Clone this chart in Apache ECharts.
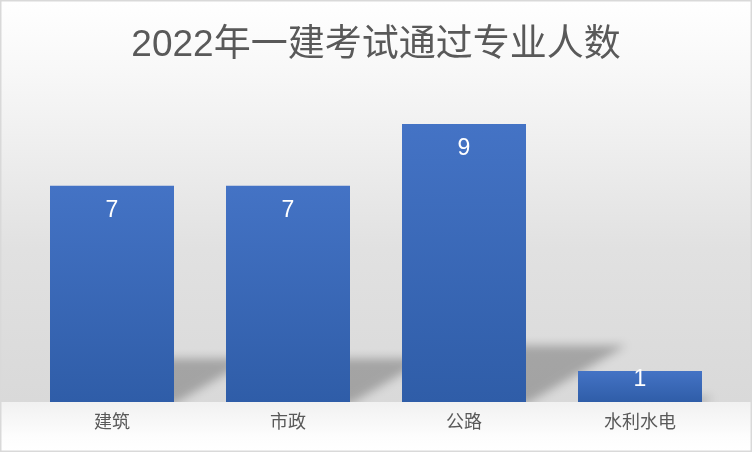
<!DOCTYPE html>
<html><head><meta charset="utf-8">
<script src="https://cdn.jsdelivr.net/npm/echarts@6/dist/echarts.min.js"></script>
<style>html,body{margin:0;padding:0;background:#fff}#c{width:752px;height:452px}</style>
</head><body><div id="c"></div>
<script>
const titleText = '2022年一建考试通过专业人数';
const categories = ['建筑', '市政', '公路', '水利水电'];
const values = [7, 7, 9, 1];

const chart = echarts.init(document.getElementById('c'));
const FONT = "'Liberation Sans', 'Noto Sans CJK SC', sans-serif";
const BAR_W = 124;
const GRID_BOTTOM = 50;
const SHIFT = 3000;

chart.setOption({
  backgroundColor: new echarts.graphic.LinearGradient(0, 0, 0, 1, [
    {offset: 0, color: '#ffffff'},
    {offset: 0.15, color: '#f8f8f8'},
    {offset: 0.33, color: '#eeeeee'},
    {offset: 0.55, color: '#e1e1e1'},
    {offset: 0.89, color: '#d9d9d9'},
    {offset: 1, color: '#d9d9d9'}
  ]),
  animation: false,
  title: {
    text: titleText, left: 'center', top: 22,
    textStyle: {fontFamily: FONT, fontSize: 37, fontWeight: 'normal', color: '#595959'}
  },
  graphic: [{
    type: 'rect', z: 1.5, silent: true, left: 0, bottom: 0,
    shape: {width: 752, height: GRID_BOTTOM},
    style: {
      fill: new echarts.graphic.LinearGradient(0, 0, 0, 1, [
        {offset: 0, color: '#f1f1f1'},
        {offset: 0.7, color: '#fdfdfd'},
        {offset: 1, color: '#ffffff'}
      ])
    }
  }, {
    type: 'rect', z: 100, silent: true,
    shape: {x: 0.75, y: 0.75, width: 750.5, height: 450.5},
    style: {fill: null, stroke: '#d9d9d9', lineWidth: 1.5}
  }],
  grid: {left: 24, right: 24, top: 93, bottom: GRID_BOTTOM},
  xAxis: {
    type: 'category', data: categories, z: 5,
    axisTick: {show: false},
    axisLine: {show: false},
    axisLabel: {fontFamily: FONT, fontSize: 18, color: '#595959', margin: 12}
  },
  yAxis: {type: 'value', min: 0, max: 10, show: false, splitLine: {show: false}},
  series: [
    {
      type: 'custom', z: 1, silent: true, clip: false,
      data: values.map((v, i) => [i, v]),
      renderItem: function (params, api) {
        const base = api.coord([api.value(0), 0]);
        const top = api.coord([api.value(0), api.value(1)]);
        const h = base[1] - top[1];
        const x0 = base[0] - BAR_W / 2 - SHIFT, x1 = base[0] + BAR_W / 2 - SHIFT, yb = base[1] + 2;
        const dx = 0.36 * h, dy = 0.21 * h;
        return {
          type: 'polygon',
          shape: {points: [[x0 + 6, yb], [x1, yb], [x1 + dx, yb - dy], [x0 + dx, yb - dy]]},
          style: {fill: '#000', shadowBlur: 10, shadowOffsetX: SHIFT, shadowColor: 'rgba(0,0,0,0.25)'}
        };
      }
    },
    {
      type: 'bar', z: 2, barWidth: BAR_W,
      data: values.map(v => (v < 2 ? {value: v, label: {distance: -3}} : {value: v})),
      itemStyle: {
        color: new echarts.graphic.LinearGradient(0, 0, 0, 1, [
          {offset: 0, color: '#4473c5'},
          {offset: 1, color: '#2f5da8'}
        ])
      },
      label: {
        show: true, position: 'insideTop', distance: 13,
        fontFamily: FONT, fontSize: 23, color: '#ffffff'
      }
    }
  ]
});
</script>
</body></html>
